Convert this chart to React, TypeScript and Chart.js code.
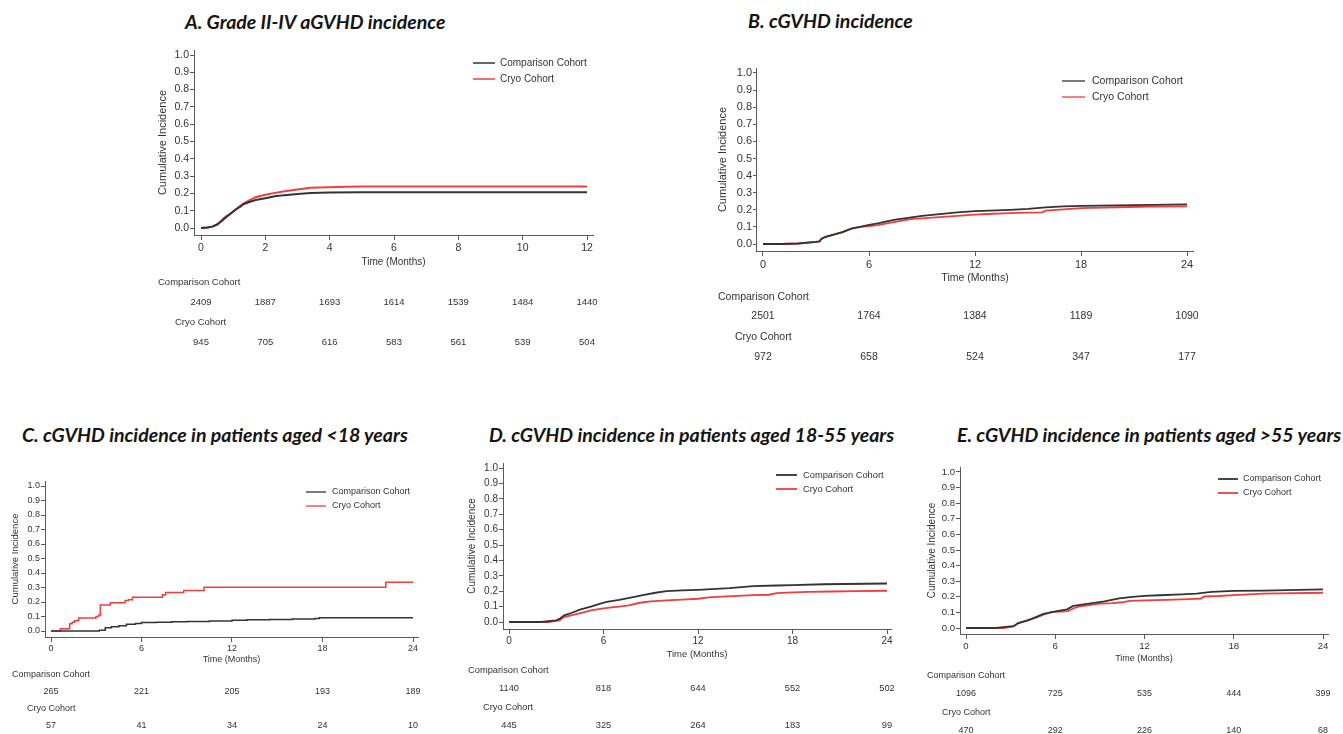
import React, { useEffect, useRef } from 'react';
import { Chart, registerables } from 'chart.js';

Chart.register(...registerables);

// ---------------- Data ----------------
const SERIES_LABELS = ['Comparison Cohort', 'Cryo Cohort'];
const Y_TICKS = [0, 0.1, 0.2, 0.3, 0.4, 0.5, 0.6, 0.7, 0.8, 0.9, 1.0];
const X_TICKS_12 = [0, 2, 4, 6, 8, 10, 12];
const X_TICKS_24 = [0, 6, 12, 18, 24];

// A. Grade II-IV aGVHD
const A_COMP_TIME = [0, 0.2, 0.35, 0.5, 0.6, 0.7, 0.8, 0.9, 1.0, 1.1, 1.2, 1.3, 1.5, 1.7, 2.0, 2.3, 2.6, 3.0, 3.4, 4.0, 5.0, 12.0];
const A_COMP_CI = [0, 0.003, 0.008, 0.02, 0.035, 0.05, 0.065, 0.08, 0.095, 0.11, 0.12, 0.135, 0.15, 0.162, 0.172, 0.183, 0.19, 0.197, 0.202, 0.205, 0.206, 0.206];
const A_CRYO_TIME = [0, 0.2, 0.35, 0.5, 0.6, 0.7, 0.8, 0.9, 1.0, 1.1, 1.2, 1.35, 1.5, 1.7, 2.0, 2.3, 2.6, 3.0, 3.4, 4.0, 4.5, 5.0, 12.0];
const A_CRYO_CI = [0, 0.003, 0.008, 0.02, 0.035, 0.055, 0.07, 0.08, 0.095, 0.11, 0.125, 0.145, 0.16, 0.178, 0.192, 0.203, 0.212, 0.222, 0.232, 0.235, 0.238, 0.24, 0.24];
const A_RISK_COMP = [2409, 1887, 1693, 1614, 1539, 1484, 1440];
const A_RISK_CRYO = [945, 705, 616, 583, 561, 539, 504];

// B. cGVHD
const B_COMP_TIME = [0, 1, 2, 3, 3.2, 3.3, 3.5, 4, 4.5, 5, 5.5, 6, 6.5, 7, 7.5, 8, 9, 10, 11, 12, 14, 15, 16, 17, 18, 20, 24];
const B_COMP_CI = [0, 0, 0.003, 0.012, 0.015, 0.03, 0.04, 0.055, 0.07, 0.09, 0.1, 0.112, 0.12, 0.132, 0.142, 0.15, 0.165, 0.175, 0.185, 0.192, 0.2, 0.205, 0.214, 0.22, 0.223, 0.226, 0.232];
const B_CRYO_TIME = [0, 1, 2, 3, 3.2, 3.3, 3.5, 4, 4.5, 5, 5.5, 6, 6.5, 7, 7.5, 8, 8.5, 9, 10, 11, 12, 13, 14, 15, 15.8, 16, 17, 18, 20, 22, 24];
const B_CRYO_CI = [0, 0, 0.003, 0.012, 0.015, 0.03, 0.04, 0.055, 0.07, 0.09, 0.1, 0.105, 0.11, 0.12, 0.13, 0.14, 0.147, 0.15, 0.157, 0.165, 0.172, 0.177, 0.18, 0.183, 0.185, 0.195, 0.203, 0.21, 0.215, 0.218, 0.22];
const B_RISK_COMP = [2501, 1764, 1384, 1189, 1090];
const B_RISK_CRYO = [972, 658, 524, 347, 177];

// C. cGVHD, aged <18 years
const C_COMP_TIME = [0, 3.2, 3.6, 4, 4.5, 5, 5.6, 6, 7, 8, 9, 10.5, 12, 13, 14.5, 16, 17.5, 17.8, 24];
const C_COMP_CI = [0, 0.005, 0.023, 0.03, 0.036, 0.046, 0.052, 0.058, 0.061, 0.064, 0.066, 0.069, 0.074, 0.077, 0.08, 0.083, 0.086, 0.092, 0.092];
const C_CRYO_TIME = [0, 0.62, 1.24, 1.4, 1.55, 1.83, 2.98, 3.16, 3.27, 3.93, 4.92, 5.14, 5.4, 7.4, 7.6, 8.8, 10.15, 22.2, 24];
const C_CRYO_CI = [0, 0.016, 0.05, 0.06, 0.07, 0.09, 0.1, 0.11, 0.18, 0.195, 0.21, 0.215, 0.232, 0.25, 0.266, 0.28, 0.302, 0.336, 0.336];
const C_RISK_COMP = [265, 221, 205, 193, 189];
const C_RISK_CRYO = [57, 41, 34, 24, 10];

// D. cGVHD, aged 18-55 years
const D_COMP_TIME = [0, 2, 2.5, 3, 3.2, 3.5, 4, 4.5, 5.2, 5.8, 6.2, 7, 7.8, 8.5, 9.3, 10, 11, 12, 14, 15.5, 17, 18, 20, 24];
const D_COMP_CI = [0, 0, 0.005, 0.011, 0.02, 0.043, 0.06, 0.08, 0.1, 0.12, 0.13, 0.144, 0.16, 0.175, 0.19, 0.2, 0.205, 0.209, 0.22, 0.233, 0.237, 0.239, 0.245, 0.25];
const D_CRYO_TIME = [0, 2.5, 3.2, 3.5, 4, 4.6, 5.2, 6, 6.5, 7, 7.6, 8.3, 9, 10, 11, 12, 12.7, 13.5, 14.5, 15.5, 16.5, 17, 18, 19, 20.5, 22, 24];
const D_CRYO_CI = [0, 0, 0.01, 0.032, 0.045, 0.06, 0.075, 0.088, 0.095, 0.1, 0.108, 0.125, 0.134, 0.14, 0.145, 0.151, 0.16, 0.165, 0.17, 0.175, 0.177, 0.188, 0.192, 0.195, 0.198, 0.2, 0.203];
const D_RISK_COMP = [1140, 818, 644, 552, 502];
const D_RISK_CRYO = [445, 325, 264, 183, 99];

// E. cGVHD, aged >55 years
const E_COMP_TIME = [0, 2, 2.2, 3, 3.2, 3.5, 4.2, 4.7, 5.2, 5.7, 6.2, 6.8, 7.2, 7.8, 8.5, 9.3, 9.8, 10.3, 11.2, 12, 13, 14.5, 15.5, 16.5, 18, 20, 24];
const E_COMP_CI = [0, 0, 0.003, 0.01, 0.012, 0.032, 0.05, 0.07, 0.09, 0.1, 0.11, 0.12, 0.142, 0.15, 0.16, 0.17, 0.18, 0.19, 0.2, 0.206, 0.21, 0.215, 0.22, 0.232, 0.238, 0.24, 0.247];
const E_CRYO_TIME = [0, 2.5, 3.2, 3.5, 4.2, 4.8, 5.2, 5.8, 6.5, 6.9, 7.2, 7.6, 8.2, 8.8, 9.8, 10.5, 11, 12, 13.5, 15, 15.8, 16, 17, 18, 19, 20, 24];
const E_CRYO_CI = [0, 0, 0.01, 0.03, 0.05, 0.07, 0.085, 0.104, 0.105, 0.11, 0.125, 0.138, 0.145, 0.155, 0.16, 0.165, 0.174, 0.177, 0.18, 0.185, 0.189, 0.202, 0.205, 0.211, 0.215, 0.22, 0.226];
const E_RISK_COMP = [1096, 725, 535, 444, 399];
const E_RISK_CRYO = [470, 292, 226, 140, 68];

// ---------------- Styles ----------------
const COMP_COLOR = '#333333';
const CRYO_COLOR = '#f23d3d';
const AXIS_COLOR = '#5a5a5a';
const TEXT_COLOR = '#333333';
const FONT = '"Liberation Sans", Arial, sans-serif';

type Fonts = { tick: number; xTitle: number; yTitle: number; legend: number; risk: number };
type PanelDef = {
  title: string;
  titlePos: [number, number];
  canvas: [number, number, number, number];
  area: [number, number, number, number];
  px: [number, number, number, number];
  xEnd: number;
  xTicks: number[];
  comp: [number[], number[]];
  cryo: [number[], number[]];
  stepped: boolean;
  riskComp: number[];
  riskCryo: number[];
  legend: [number, number, number, number, number];
  riskPos: [number, number, number, number, number, number];
  yTitleX: number;
  xTitleY: number;
  fonts: Fonts;
  lineW: number;
  legendW: number;
  xTickPad: number;
};

const PANELS: PanelDef[] = [
  {
    title: 'A. Grade II-IV aGVHD incidence', titlePos: [185, 22],
    canvas: [140, 40, 480, 320], area: [194, 50, 593, 235], px: [201, 587, 228, 55],
    xEnd: 12, xTicks: X_TICKS_12, comp: [A_COMP_TIME, A_COMP_CI], cryo: [A_CRYO_TIME, A_CRYO_CI], stepped: false,
    riskComp: A_RISK_COMP, riskCryo: A_RISK_CRYO,
    legend: [473, 495, 500, 63, 79], riskPos: [158, 282, 302, 175, 322, 342],
    yTitleX: 163, xTitleY: 262, fonts: { tick: 10.5, xTitle: 10, yTitle: 11, legend: 10, risk: 9.5 }, lineW: 2, legendW: 1.5, xTickPad: 2,
  },
  {
    title: 'B. cGVHD incidence', titlePos: [748, 21],
    canvas: [690, 55, 530, 320], area: [757, 68, 1193, 251], px: [763, 1187, 244, 73],
    xEnd: 24, xTicks: X_TICKS_24, comp: [B_COMP_TIME, B_COMP_CI], cryo: [B_CRYO_TIME, B_CRYO_CI], stepped: false,
    riskComp: B_RISK_COMP, riskCryo: B_RISK_CRYO,
    legend: [1062, 1085, 1092, 81, 97], riskPos: [718, 297, 316, 735, 337, 357],
    yTitleX: 723, xTitleY: 278, fonts: { tick: 11, xTitle: 10.5, yTitle: 11, legend: 10.5, risk: 10.5 }, lineW: 1.8, legendW: 1.3, xTickPad: 2,
  },
  {
    title: 'C. cGVHD incidence in patients aged <18 years', titlePos: [22, 435],
    canvas: [0, 470, 440, 264], area: [45, 481, 418, 637], px: [51, 413, 631, 486],
    xEnd: 24, xTicks: X_TICKS_24, comp: [C_COMP_TIME, C_COMP_CI], cryo: [C_CRYO_TIME, C_CRYO_CI], stepped: true,
    riskComp: C_RISK_COMP, riskCryo: C_RISK_CRYO,
    legend: [306, 326, 332, 492, 506], riskPos: [12, 675, 692, 27, 709, 726],
    yTitleX: 15, xTitleY: 660, fonts: { tick: 9, xTitle: 9, yTitle: 9.5, legend: 9, risk: 9 }, lineW: 1.5, legendW: 1.3, xTickPad: 1,
  },
  {
    title: 'D. cGVHD incidence in patients aged 18-55 years', titlePos: [489, 435],
    canvas: [450, 450, 455, 284], area: [503, 463, 891, 629], px: [509, 887, 622, 468],
    xEnd: 24, xTicks: X_TICKS_24, comp: [D_COMP_TIME, D_COMP_CI], cryo: [D_CRYO_TIME, D_CRYO_CI], stepped: false,
    riskComp: D_RISK_COMP, riskCryo: D_RISK_CRYO,
    legend: [776, 797, 803, 475, 489], riskPos: [468, 670, 688, 483, 707, 725],
    yTitleX: 472, xTitleY: 654, fonts: { tick: 10, xTitle: 9.5, yTitle: 10, legend: 9.3, risk: 9.3 }, lineW: 1.8, legendW: 1.8, xTickPad: 1,
  },
  {
    title: 'E. cGVHD incidence in patients aged >55 years', titlePos: [957, 435],
    canvas: [905, 455, 438, 279], area: [960, 467, 1328, 634], px: [966, 1323, 628, 472],
    xEnd: 24, xTicks: X_TICKS_24, comp: [E_COMP_TIME, E_COMP_CI], cryo: [E_CRYO_TIME, E_CRYO_CI], stepped: false,
    riskComp: E_RISK_COMP, riskCryo: E_RISK_CRYO,
    legend: [1218, 1238, 1243, 479, 493], riskPos: [927, 676, 694, 942, 713, 731],
    yTitleX: 932, xTitleY: 659, fonts: { tick: 9.6, xTitle: 9, yTitle: 10, legend: 9, risk: 9 }, lineW: 1.8, legendW: 1.8, xTickPad: 2,
  },
];

function decorPlugin(p: PanelDef) {
  return {
    id: 'kmDecor',
    afterDraw(chart: any) {
      const { ctx } = chart;
      const xs = chart.scales.x;
      const [cl, ct] = p.canvas;
      ctx.save();
      // legend
      const [lx1, lx2, tx, ly1, ly2] = p.legend;
      const rows = [ly1, ly2];
      chart.data.datasets.forEach((ds: any, i: number) => {
        const y = rows[i] - ct;
        ctx.strokeStyle = ds.borderColor;
        ctx.lineWidth = p.legendW;
        ctx.beginPath();
        ctx.moveTo(lx1 - cl, y);
        ctx.lineTo(lx2 - cl, y);
        ctx.stroke();
        ctx.fillStyle = TEXT_COLOR;
        ctx.font = `${p.fonts.legend}px ${FONT}`;
        ctx.textAlign = 'left';
        ctx.textBaseline = 'middle';
        ctx.fillText(ds.label, tx - cl, y);
      });
      // number at risk table
      const [l1x, l1y, n1y, l2x, l2y, n2y] = p.riskPos;
      ctx.font = `${p.fonts.risk}px ${FONT}`;
      ctx.fillStyle = TEXT_COLOR;
      ctx.textBaseline = 'middle';
      ctx.textAlign = 'left';
      ctx.fillText(SERIES_LABELS[0], l1x - cl, l1y - ct);
      ctx.fillText(SERIES_LABELS[1], l2x - cl, l2y - ct);
      ctx.textAlign = 'center';
      p.xTicks.forEach((t, i) => {
        const x = xs.getPixelForValue(t);
        ctx.fillText(String(p.riskComp[i]), x, n1y - ct);
        ctx.fillText(String(p.riskCryo[i]), x, n2y - ct);
      });
      ctx.restore();
    },
  };
}

function makeConfig(p: PanelDef): any {
  const [cl, ct, cw, ch] = p.canvas;
  const [al, at, ar, ab] = p.area;
  const [x0, xE, y0, y1] = p.px;
  const ppx = (xE - x0) / p.xEnd;
  const ppy = y0 - y1;
  const xMin = -(x0 - al) / ppx;
  const xMax = p.xEnd + (ar - xE) / ppx;
  const yMin = -(ab - y0) / ppy;
  const yMax = 1 + (y1 - at) / ppy;
  const wY = al - p.yTitleX + (p.fonts.yTitle * 1.2) / 2;
  const hX = p.xTitleY - ab + (p.fonts.xTitle * 1.2) / 2;
  const padding = { left: al - wY - cl, right: cl + cw - ar, top: at - ct, bottom: ct + ch - ab - hX };
  const stepped = p.stepped ? 'before' : false;
  const toPts = (s: [number[], number[]]) => s[0].map((t, i) => ({ x: t, y: s[1][i] }));
  return {
    type: 'line',
    data: {
      datasets: [
        { label: SERIES_LABELS[0], data: toPts(p.comp), borderColor: COMP_COLOR, borderWidth: p.lineW, pointRadius: 0, stepped, tension: 0, fill: false },
        { label: SERIES_LABELS[1], data: toPts(p.cryo), borderColor: CRYO_COLOR, borderWidth: p.lineW, pointRadius: 0, stepped, tension: 0, fill: false },
      ],
    },
    options: {
      responsive: false,
      maintainAspectRatio: false,
      animation: false,
      events: [],
      layout: { padding },
      plugins: { legend: { display: false }, tooltip: { enabled: false } },
      scales: {
        x: {
          type: 'linear', min: xMin, max: xMax,
          afterBuildTicks: (s: any) => { s.ticks = p.xTicks.map((v) => ({ value: v })); },
          afterFit: (s: any) => { s.height = hX; },
          grid: { display: true, drawOnChartArea: false, drawTicks: true, tickLength: 5, color: AXIS_COLOR, lineWidth: 1 },
          border: { display: true, color: AXIS_COLOR, width: 1 },
          ticks: { font: { family: FONT, size: p.fonts.tick }, color: TEXT_COLOR, padding: p.xTickPad, maxRotation: 0, autoSkip: false, callback: (v: any) => String(v) },
          title: { display: true, text: 'Time (Months)', font: { family: FONT, size: p.fonts.xTitle }, color: TEXT_COLOR, padding: 0 },
        },
        y: {
          type: 'linear', min: yMin, max: yMax,
          afterBuildTicks: (s: any) => { s.ticks = Y_TICKS.map((v) => ({ value: v })); },
          afterFit: (s: any) => { s.width = wY; },
          grid: { display: true, drawOnChartArea: false, drawTicks: true, tickLength: 4, color: AXIS_COLOR, lineWidth: 1 },
          border: { display: true, color: AXIS_COLOR, width: 1 },
          ticks: { font: { family: FONT, size: p.fonts.tick }, color: TEXT_COLOR, padding: 1, autoSkip: false, callback: (v: any) => Number(v).toFixed(1) },
          title: { display: true, text: 'Cumulative Incidence', font: { family: FONT, size: p.fonts.yTitle }, color: TEXT_COLOR, padding: 0 },
        },
      },
    },
    plugins: [decorPlugin(p)],
  };
}

function KMPanel({ p }: { p: PanelDef }) {
  const ref = useRef<HTMLCanvasElement | null>(null);
  useEffect(() => {
    if (!ref.current) return;
    const chart = new Chart(ref.current, makeConfig(p));
    return () => chart.destroy();
  }, [p]);
  const [cl, ct, cw, ch] = p.canvas;
  return (
    <canvas
      ref={ref}
      width={cw}
      height={ch}
      style={{ position: 'absolute', left: cl, top: ct, width: cw, height: ch, display: 'block' }}
    />
  );
}

export default function App() {
  return (
    <div style={{ position: 'absolute', left: 0, top: 0, width: 1343, height: 734, overflow: 'hidden', background: '#ffffff' }}>
      {PANELS.map((p, i) => (
        <KMPanel key={i} p={p} />
      ))}
      {PANELS.map((p, i) => (
        <div
          key={'t' + i}
          style={{
            position: 'absolute',
            left: p.titlePos[0],
            top: p.titlePos[1] - 13,
            height: 26,
            lineHeight: '26px',
            whiteSpace: 'nowrap',
            fontFamily: 'Lato, "Open Sans", sans-serif',
            fontWeight: 700,
            fontStyle: 'italic',
            fontSize: 19.5,
            color: '#141414',
          }}
        >
          {p.title}
        </div>
      ))}
    </div>
  );
}
